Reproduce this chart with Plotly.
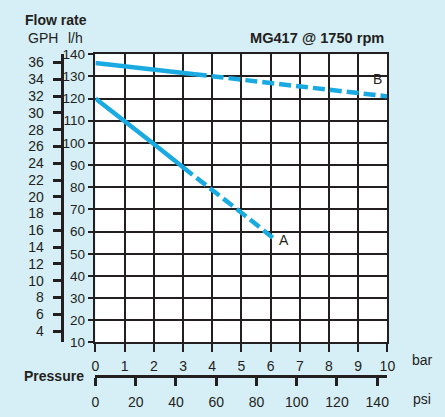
import plotly.graph_objects as go

# ---- data ----
a_solid_bar = [0, 1, 2, 3]
a_solid_lh = [120, 110, 99.5, 89]
a_dash_bar = [3, 4, 5, 6.1]
a_dash_lh = [89, 79, 68.5, 57]

b_solid_bar = [0, 1, 2, 3, 3.4]
b_solid_lh = [136, 134.5, 133, 131.5, 131]
b_dash_bar = [3.4, 4, 6, 8, 10]
b_dash_lh = [131, 130, 127, 124, 121]

lh_ticks = list(range(10, 141, 10))
gph_ticks = list(range(4, 37, 2))
bar_ticks = list(range(0, 11))
psi_ticks = list(range(0, 141, 20))

LH_PER_GPH = 3.785
PSI_PER_BAR = 14.5038

W, H = 445, 417
BG = "#d6eef6"
LINE = "#1aaae2"
INK = "#231f20"
FONT = "Liberation Sans, Arial, sans-serif"
FS = 14


def px(x):
    return x / W


def py(y):
    return (H - y) / H


fig = go.Figure()
for xs, ys, dash in [
    (a_solid_bar, a_solid_lh, "solid"),
    (a_dash_bar, a_dash_lh, "12px,5px"),
    (b_solid_bar, b_solid_lh, "solid"),
    (b_dash_bar, b_dash_lh, "12px,5px"),
]:
    fig.add_trace(go.Scatter(x=xs, y=ys, mode="lines",
                             line=dict(color=LINE, width=4.5, dash=dash),
                             showlegend=False, hoverinfo="skip"))

# invisible traces to activate secondary axes
fig.add_trace(go.Scatter(x=[0], y=[10 / LH_PER_GPH], xaxis="x", yaxis="y2",
                         mode="markers", marker=dict(opacity=0), showlegend=False, hoverinfo="skip"))
fig.add_trace(go.Scatter(x=[0], y=[10], xaxis="x2", yaxis="y",
                         mode="markers", marker=dict(opacity=0), showlegend=False, hoverinfo="skip"))

xdom = [px(94), px(394)]
ydom = [py(348), py(49)]
tickfont = dict(family=FONT, size=FS, color=INK)

fig.update_layout(
    autosize=True,
    margin=dict(l=0, r=0, t=0, b=0),
    paper_bgcolor=BG, plot_bgcolor="white",
    font=dict(family=FONT, size=FS, color=INK),
    xaxis=dict(domain=xdom, range=[0, 10], tickvals=bar_ticks,
               showgrid=True, gridcolor=INK, gridwidth=1.5,
               showline=True, linecolor=INK, linewidth=1.5, mirror=True,
               ticks="outside", ticklen=8, tickcolor=INK, tickwidth=1.5,
               ticklabelstandoff=2,
               tickfont=tickfont, zeroline=False, fixedrange=True),
    yaxis=dict(domain=ydom, range=[10, 140], tickvals=lh_ticks,
               showgrid=True, gridcolor=INK, gridwidth=1.5,
               showline=True, linecolor=INK, linewidth=1.5, mirror=True,
               ticks="outside", ticklen=6, tickcolor=INK, tickwidth=1.5,
               ticklabelstandoff=0,
               tickfont=dict(family=FONT, size=13.5, color=INK),
               zeroline=False, fixedrange=True),
    yaxis2=dict(domain=ydom, range=[10 / LH_PER_GPH, 140 / LH_PER_GPH],
                overlaying="y", anchor="free", position=px(60), side="left",
                tickvals=gph_ticks, showgrid=False, showline=True,
                linecolor=INK, linewidth=2.5, ticks="outside", ticklen=9,
                tickcolor=INK, tickwidth=2.5, tickfont=tickfont,
                ticklabelstandoff=6,
                zeroline=False, fixedrange=True),
    xaxis2=dict(domain=xdom, range=[0, 10 * PSI_PER_BAR], overlaying="x",
                anchor="free", position=py(383), side="bottom",
                tickvals=psi_ticks, showgrid=False, showline=True,
                linecolor=INK, linewidth=2.5, ticks="outside", ticklen=8,
                tickcolor=INK, tickwidth=2.5, tickfont=tickfont,
                ticklabelstandoff=4,
                zeroline=False, fixedrange=True),
)

ann = [
    dict(text="<b>Flow rate</b>", x=px(20), y=py(14), xanchor="left"),
    dict(text="GPH", x=px(23), y=py(32), xanchor="left"),
    dict(text="l/h", x=px(64), y=py(32), xanchor="left"),
    dict(text="<b>MG417 @ 1750 rpm</b>", x=px(393), y=py(32), xanchor="right", size=14.6),
    dict(text="<b>Pressure</b>", x=px(84), y=py(383), xanchor="right"),
    dict(text="bar", x=px(417), y=py(366), xanchor="left"),
    dict(text="psi", x=px(418), y=py(407), xanchor="left"),
]
for a in ann:
    size = a.pop("size", FS)
    fig.add_annotation(xref="paper", yref="paper", yanchor="middle",
                       showarrow=False, font=dict(family=FONT, size=size, color=INK), **a)

fig.add_annotation(x=6.45, y=56, text="A", showarrow=False, xanchor="center",
                   yanchor="middle", font=dict(family=FONT, size=FS, color=INK))
fig.add_annotation(x=9.65, y=129, text="B", showarrow=False, xanchor="center",
                   yanchor="middle", font=dict(family=FONT, size=FS, color=INK))

fig.write_html(
    "out.html",
    config={"displayModeBar": False, "responsive": True},
    default_width="100vw",
    default_height="100vh",
    post_script=(
        "document.documentElement.style.margin='0';"
        "document.body.style.margin='0';"
        "document.body.style.overflow='hidden';"
        "document.body.style.background='" + BG + "';"
        "var gd=document.getElementById('{plot_id}');"
        "Plotly.Plots.resize(gd);"
    ),
)
